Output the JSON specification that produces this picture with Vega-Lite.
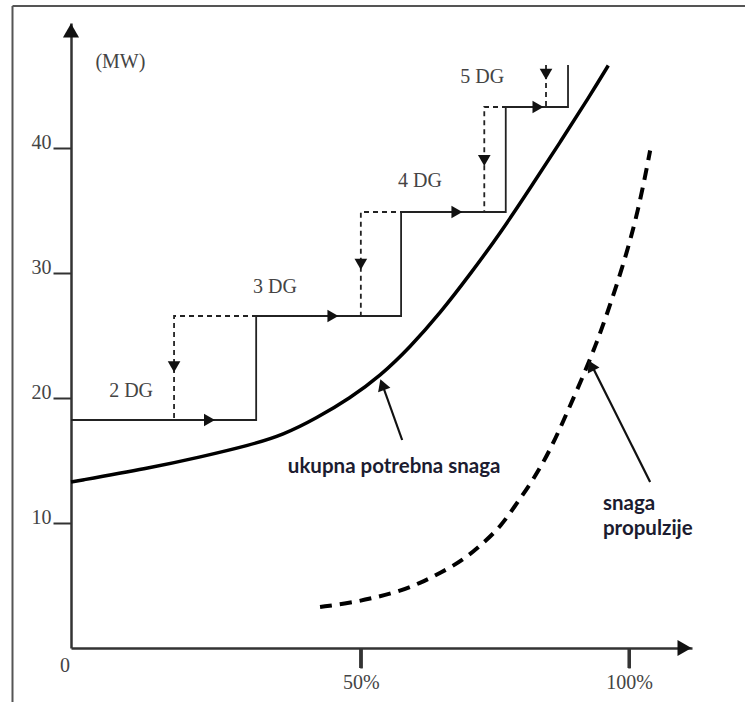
{
  "$schema": "https://vega.github.io/schema/vega-lite/v6.json",
  "width": 621,
  "height": 625,
  "autosize": {"type": "none"},
  "padding": {"left": 71, "top": 23, "right": 53, "bottom": 54},
  "background": "white",
  "config": {"view": {"stroke": null}},
  "datasets": {
    "frame": [
      {"x": -14.9, "y": -5, "x2": -14.9, "y2": 51.36},
      {"x": -14.9, "y": 51.36, "x2": 125, "y2": 51.36}
    ],
    "xTicks": [
      {"x": 50, "x2": 50, "y": 0, "y2": -1.6},
      {"x": 100, "x2": 100, "y": 0, "y2": -1.6}
    ],
    "stepsSolid": [
      {"i": 0, "x": -4, "y": 18.24},
      {"i": 1, "x": 30.5, "y": 18.24},
      {"i": 2, "x": 30.5, "y": 26.56},
      {"i": 3, "x": 57.5, "y": 26.56},
      {"i": 4, "x": 57.5, "y": 34.88},
      {"i": 5, "x": 77.0, "y": 34.88},
      {"i": 6, "x": 77.0, "y": 43.28},
      {"i": 7, "x": 88.6, "y": 43.28},
      {"i": 8, "x": 88.6, "y": 46.64}
    ],
    "stepsDashed": [
      {"i": 0, "x": 84.5, "y": 46.64},
      {"i": 1, "x": 84.5, "y": 43.28},
      {"i": 2, "x": 73.0, "y": 43.28},
      {"i": 3, "x": 73.0, "y": 34.88},
      {"i": 4, "x": 50.0, "y": 34.88},
      {"i": 5, "x": 50.0, "y": 26.56},
      {"i": 6, "x": 15.2, "y": 26.56},
      {"i": 7, "x": 15.2, "y": 18.24}
    ],
    "total": [
      {"x": -4, "y": 13.28},
      {"x": 10.7, "y": 14.4},
      {"x": 20.1, "y": 15.28},
      {"x": 29.4, "y": 16.24},
      {"x": 35.5, "y": 17.04},
      {"x": 41.8, "y": 18.4},
      {"x": 48.0, "y": 20.0},
      {"x": 53.6, "y": 21.76},
      {"x": 59.2, "y": 24.08},
      {"x": 64.8, "y": 26.8},
      {"x": 70.4, "y": 29.92},
      {"x": 76.0, "y": 33.2},
      {"x": 81.5, "y": 36.76},
      {"x": 87.1, "y": 40.44},
      {"x": 92.7, "y": 44.2},
      {"x": 96.1, "y": 46.6}
    ],
    "propulsion": [
      {"x": 42.4, "y": 3.28},
      {"x": 48.0, "y": 3.6},
      {"x": 52.3, "y": 4.0},
      {"x": 56.8, "y": 4.48},
      {"x": 61.1, "y": 5.2},
      {"x": 64.8, "y": 6.0},
      {"x": 69.1, "y": 7.04},
      {"x": 72.8, "y": 8.4},
      {"x": 76.0, "y": 9.68},
      {"x": 79.1, "y": 11.6},
      {"x": 82.1, "y": 13.44},
      {"x": 85.3, "y": 15.84},
      {"x": 88.4, "y": 18.8},
      {"x": 92.7, "y": 23.0},
      {"x": 95.9, "y": 26.7},
      {"x": 99.6, "y": 31.6},
      {"x": 102.0, "y": 35.6},
      {"x": 103.9, "y": 39.8}
    ],
    "pointers": [
      {"x": 57.7, "y": 16.64, "x2": 53.9, "y2": 21.2},
      {"x": 103.9, "y": 13.28, "x2": 92.8, "y2": 22.8}
    ],
    "stepArrows": [
      {"x": 21.8, "y": 18.24, "heading": 90},
      {"x": 44.8, "y": 26.56, "heading": 90},
      {"x": 67.9, "y": 34.88, "heading": 90},
      {"x": 83.0, "y": 43.28, "heading": 90},
      {"x": 15.2, "y": 22.5, "heading": 180},
      {"x": 50.0, "y": 30.7, "heading": 180},
      {"x": 73.0, "y": 39.0, "heading": 180},
      {"x": 84.5, "y": 45.9, "heading": 180}
    ],
    "axisArrows": [
      {"x": -4, "y": 49.4, "heading": 0},
      {"x": 110.3, "y": 0, "heading": 90}
    ],
    "pointerHeads": [
      {"x": 54.0, "y": 21.07, "heading": 340},
      {"x": 92.9, "y": 22.6, "heading": 333}
    ],
    "serifLabels": [
      {"x": 5.2, "y": 46.4, "text": "(MW)"},
      {"x": 7.2, "y": 20.08, "text": "2 DG"},
      {"x": 34.0, "y": 28.4, "text": "3 DG"},
      {"x": 61.0, "y": 36.88, "text": "4 DG"},
      {"x": 72.6, "y": 45.2, "text": "5 DG"},
      {"x": -5.1, "y": -1.9, "text": "0"}
    ],
    "notes": [
      {"x": 36.4, "y": 14.0, "text": "ukupna potrebna snaga"},
      {"x": 95.1, "y": 11.04, "text": "snaga"},
      {"x": 95.1, "y": 9.04, "text": "propulzije"}
    ]
  },
  "encoding": {
    "x": {"field": "x", "type": "quantitative", "scale": {"domain": [-4, 111.7], "nice": false, "zero": false},
      "axis": {"values": [50, 100], "labelExpr": "datum.value + '%'", "title": null, "grid": false, "ticks": true, "domainColor": "#333333", "domainWidth": 2.5, "tickColor": "#333333", "tickWidth": 2.5, "tickSize": 20, "labelFont": "Liberation Serif", "labelFontSize": 20, "labelColor": "#444444", "labelPadding": 4}},
    "y": {"field": "y", "type": "quantitative", "scale": {"domain": [0, 50], "nice": false, "zero": false},
      "axis": {"values": [10, 20, 30, 40], "title": null, "grid": false, "ticks": true, "domainColor": "#333333", "domainWidth": 2.5, "tickColor": "#333333", "tickWidth": 2, "tickSize": 18, "labelFont": "Liberation Serif", "labelFontSize": 20, "labelColor": "#444444", "labelPadding": 2, "labelBaseline": "alphabetic"}}
  },
  "layer": [
    {
      "data": {"name": "frame"},
      "mark": {"type": "rule", "color": "#555555", "strokeWidth": 2},
      "encoding": {"x2": {"field": "x2"}, "y2": {"field": "y2"}}
    },
    {
      "data": {"name": "xTicks"},
      "mark": {"type": "rule", "color": "#333333", "strokeWidth": 3.5},
      "encoding": {"x2": {"field": "x2"}, "y2": {"field": "y2"}}
    },
    {
      "data": {"name": "total"},
      "mark": {"type": "line", "color": "#000000", "strokeWidth": 3.5, "interpolate": "basis"},
      "encoding": {}
    },
    {
      "data": {"name": "propulsion"},
      "mark": {"type": "line", "color": "#000000", "strokeWidth": 4, "strokeDash": [12, 8], "interpolate": "basis"},
      "encoding": {}
    },
    {
      "data": {"name": "stepsSolid"},
      "mark": {"type": "line", "color": "#222222", "strokeWidth": 1.8},
      "encoding": {"order": {"field": "i", "type": "quantitative"}}
    },
    {
      "data": {"name": "stepsDashed"},
      "mark": {"type": "line", "color": "#222222", "strokeWidth": 1.8, "strokeDash": [5, 4]},
      "encoding": {"order": {"field": "i", "type": "quantitative"}}
    },
    {
      "data": {"name": "pointers"},
      "mark": {"type": "rule", "color": "#111111", "strokeWidth": 2.2},
      "encoding": {"x2": {"field": "x2"}, "y2": {"field": "y2"}}
    },
    {
      "data": {"name": "stepArrows"},
      "mark": {"type": "point", "shape": "triangle-up", "filled": true, "color": "#111111", "size": 160, "opacity": 1},
      "encoding": {"angle": {"field": "heading", "type": "quantitative", "scale": {"domain": [0, 360], "range": [0, 360]}}}
    },
    {
      "data": {"name": "axisArrows"},
      "mark": {"type": "point", "shape": "triangle-up", "filled": true, "color": "#111111", "size": 260, "opacity": 1},
      "encoding": {"angle": {"field": "heading", "type": "quantitative", "scale": {"domain": [0, 360], "range": [0, 360]}}}
    },
    {
      "data": {"name": "pointerHeads"},
      "mark": {"type": "point", "shape": "triangle-up", "filled": true, "color": "#111111", "size": 170, "opacity": 1},
      "encoding": {"angle": {"field": "heading", "type": "quantitative", "scale": {"domain": [0, 360], "range": [0, 360]}}}
    },
    {
      "data": {"name": "serifLabels"},
      "mark": {"type": "text", "font": "Liberation Serif", "fontSize": 20, "color": "#444444", "align": "center", "baseline": "alphabetic"},
      "encoding": {"text": {"field": "text"}}
    },
    {
      "data": {"name": "notes"},
      "mark": {"type": "text", "font": "Lato", "fontWeight": "bold", "fontSize": 20.5, "color": "#1c1c30", "align": "left", "baseline": "alphabetic"},
      "encoding": {"text": {"field": "text"}}
    }
  ]
}
